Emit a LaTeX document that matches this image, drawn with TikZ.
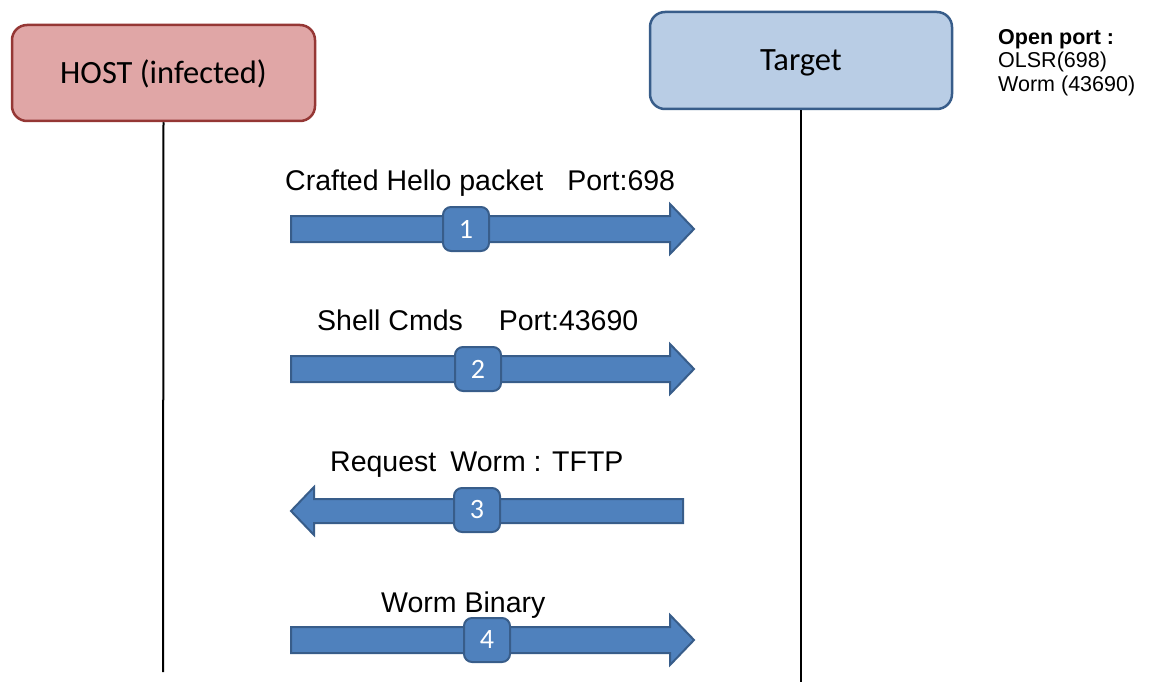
\documentclass[tikz,border=0pt]{standalone}
\usepackage{fontspec}
\setmainfont{Liberation Sans}
\newfontfamily\cali{Carlito}
\definecolor{hostfill}{RGB}{224,166,166}
\definecolor{hostline}{RGB}{149,55,53}
\definecolor{tgtfill}{RGB}{185,205,229}
\definecolor{tgtline}{RGB}{56,93,138}
\definecolor{arrfill}{RGB}{79,129,189}
\definecolor{arrline}{RGB}{56,93,138}
\tikzset{
  actor/.style={rounded corners=15pt, line width=2.5pt, inner sep=0pt,
    text height=21pt, text depth=0pt,
    font=\cali\fontsize{32.5}{38}\selectfont},
  lifeline/.style={line width=2pt, black},
  blockarrow/.style={fill=arrfill, draw=arrline, line width=2pt, line join=miter},
  badge/.style={rounded corners=8pt, fill=arrfill, draw=arrline, line width=2pt,
    minimum width=46pt, minimum height=44pt, inner sep=0pt, text=white,
    font=\cali\fontsize{28}{34}\selectfont},
  msg/.style={anchor=base west, inner sep=0pt, font=\fontsize{28.5}{34}\selectfont},
  note/.style={anchor=north west, inner sep=0pt, align=left, font=\fontsize{21.5}{23.5}\selectfont}
}
% right arrow: #1 left x, #2 right tip x, #3 centre y
\newcommand\rblock[3]{\draw[blockarrow] (#1,#3-13) -- (#2-24,#3-13) -- (#2-24,#3-25) -- (#2,#3) -- (#2-24,#3+25) -- (#2-24,#3+13) -- (#1,#3+13) -- cycle;}
\newcommand\lblock[3]{\draw[blockarrow] (#2,#3-12) -- (#1+23,#3-12) -- (#1+23,#3-24) -- (#1,#3) -- (#1+23,#3+24) -- (#1+23,#3+12) -- (#2,#3+12) -- cycle;}
\begin{document}
\begin{tikzpicture}[x=1pt,y=-1pt]
\useasboundingbox (0,0) rectangle (1150,682);
% actors
\node[actor, fill=hostfill, draw=hostline, minimum width=303pt, minimum height=96pt] (host) at (163.5,73) {HOST (infected)};
\node[actor, fill=tgtfill, draw=tgtline, minimum width=302pt, minimum height=97pt] (target) at (801,60.5) {Target};
\node[note] (ports) at (998,29) {\textbf{Open port :}\\OLSR(698)\\Worm (43690)};
% lifelines
\coordinate (hostend) at (163,672);
\coordinate (tgtend) at (801,682);
\draw[lifeline] (host.south) -- (hostend);
\draw[lifeline] (target.south) -- (tgtend);
% messages
\rblock{291}{694}{229}
\node[badge] (b1) at (466,229) {1};
\node[msg] (m1) at (285,190) {Crafted Hello packet\hspace{24pt}Port:698};
\rblock{291}{694}{369}
\node[badge] (b2) at (478,369) {2};
\node[msg] (m2) at (317,330) {Shell Cmds\hspace{36pt}Port:43690};
\lblock{291}{683}{511}
\node[badge] (b3) at (477,510) {3};
\node[msg] (m3) at (330,471) {Request\hspace{14pt}Worm : TFTP};
\rblock{291}{694}{640}
\node[badge] (b4) at (487,640) {4};
\node[msg] (m4) at (381,612) {Worm Binary};
\end{tikzpicture}
\end{document}
